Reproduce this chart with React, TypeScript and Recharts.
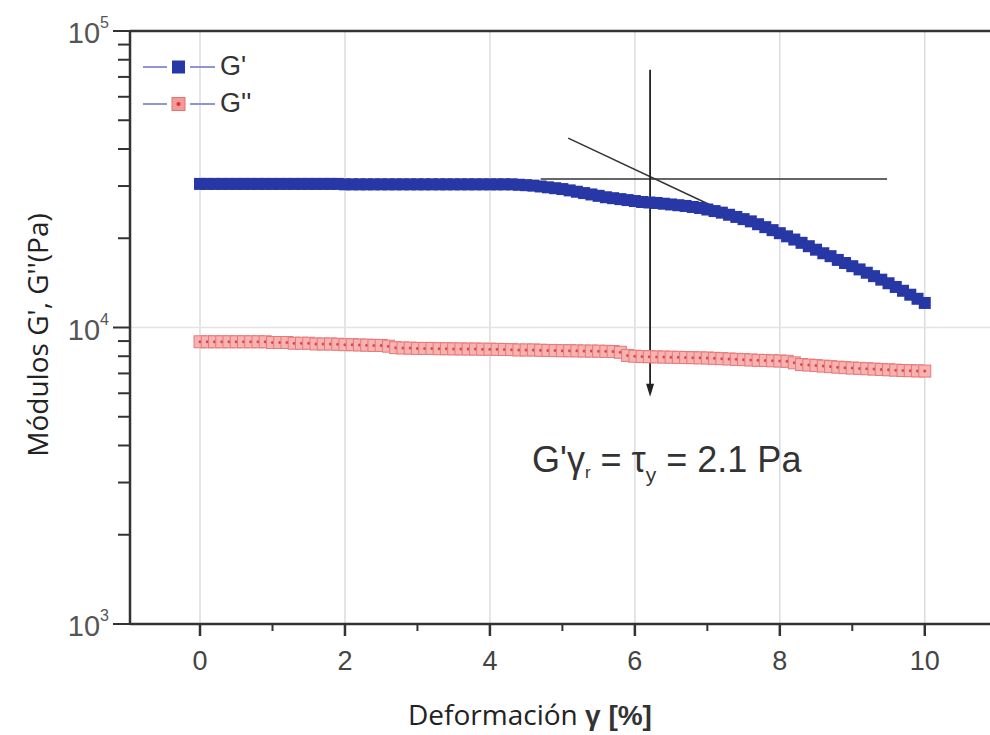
import React from 'react';
import { ComposedChart, Line, Scatter, XAxis, YAxis, ReferenceLine } from 'recharts';

// strain grid, 0 → 10 % in 0.1 steps
const strain = Array.from({ length: 101 }, (_, i) => i / 10);

// G' (Pa)
const gPrime = [
  30500, 30500, 30500, 30500, 30500, 30500, 30500, 30500, 30500, 30500,
  30500, 30500, 30500, 30500, 30500, 30500, 30500, 30500, 30500, 30500,
  30400, 30400, 30400, 30400, 30400, 30400, 30400, 30400, 30400, 30400,
  30400, 30400, 30400, 30400, 30400, 30400, 30400, 30400, 30400, 30400,
  30400, 30400, 30400, 30400, 30300, 30200, 30100, 29900, 29700, 29500,
  29300, 29000, 28700, 28400, 28100, 27800, 27500, 27300, 27100, 26900,
  26700, 26500, 26400, 26300, 26150, 26000, 25850, 25700, 25500, 25300,
  25000, 24700, 24400, 24000, 23600, 23200, 22800, 22300, 21800, 21300,
  20800, 20300, 19800, 19300, 18800, 18300, 17800, 17400, 16900, 16500,
  16100, 15700, 15300, 14900, 14500, 14100, 13700, 13300, 12900, 12500,
  12100,
];

// G'' (Pa)
const gDoublePrime = [
  8950, 8950, 8950, 8950, 8950, 8950, 8950, 8950, 8950, 8950,
  8900, 8900, 8900, 8850, 8850, 8850, 8800, 8800, 8800, 8780,
  8750, 8750, 8730, 8720, 8700, 8700, 8650, 8550, 8530, 8520,
  8500, 8500, 8500, 8480, 8480, 8470, 8470, 8460, 8460, 8450,
  8450, 8440, 8430, 8420, 8400, 8400, 8400, 8380, 8370, 8360,
  8350, 8350, 8340, 8330, 8330, 8320, 8310, 8300, 8250, 8050,
  8000, 7980, 7970, 7960, 7950, 7940, 7930, 7920, 7910, 7900,
  7890, 7870, 7850, 7830, 7810, 7790, 7770, 7750, 7740, 7720,
  7710, 7690, 7600, 7500, 7470, 7440, 7410, 7380, 7350, 7320,
  7300, 7280, 7260, 7240, 7220, 7200, 7180, 7160, 7150, 7140,
  7130,
];

const xTicks = [0, 1, 2, 3, 4, 5, 6, 7, 8, 9, 10];
const xGrid = [0, 2, 4, 6, 8, 10];
const yTicks = [
  1000, 2000, 3000, 4000, 5000, 6000, 7000, 8000, 9000,
  10000, 20000, 30000, 40000, 50000, 60000, 70000, 80000, 90000, 100000,
];

// annotation construction (yield point)
const arrowLine = [{ x: 6.21, y: 74000 }, { x: 6.21, y: 6100 }];
const arrowTip = [{ x: 6.21, y: 5840 }];
const plateauLine = [{ x: 4.7, y: 31700 }, { x: 9.48, y: 31700 }];
const tangentLine = [{ x: 5.08, y: 43500 }, { x: 7.13, y: 25300 }];

const gpData = strain.map((x, i) => ({ x, y: gPrime[i] }));
const gppData = strain.map((x, i) => ({ x, y: gDoublePrime[i] }));

const BLUE = '#2837a6';
const ARIAL = '"Liberation Sans", Arial, sans-serif';
const OPEN = '"Open Sans", sans-serif';

function XTick(props: any) {
  const { x, y, payload } = props;
  const major = payload.value % 2 === 0;
  return (
    <g>
      <line x1={x} x2={x} y1={y} y2={y + (major ? 12 : 7)} stroke="#333" strokeWidth={major ? 2.5 : 2} />
      {major && (
        <text x={x} y={y + 46} textAnchor="middle" fontSize={27} fill="#444" fontFamily={ARIAL}>
          {payload.value}
        </text>
      )}
    </g>
  );
}

function YTick(props: any) {
  const { x, y, payload } = props;
  const exp = Math.log10(payload.value);
  const major = Math.abs(exp - Math.round(exp)) < 1e-6;
  return (
    <g>
      <line x1={x - (major ? 17 : 12)} x2={x} y1={y} y2={y} stroke="#333" strokeWidth={2} />
      {major && (
        <text x={x - 21} y={y + 12} textAnchor="end" fontSize={29} fill="#555" fontFamily={ARIAL}>
          10<tspan fontSize={16} dy={-15}>{Math.round(exp)}</tspan>
        </text>
      )}
    </g>
  );
}

function BlueSquare(props: any) {
  const { cx, cy, index } = props;
  if (cx == null || cy == null) return <g key={index} />;
  return <rect key={index} x={cx - 6} y={cy - 6} width={12} height={12} fill={BLUE} />;
}

function RedSquare(props: any) {
  const { cx, cy, index } = props;
  if (cx == null || cy == null) return <g key={index} />;
  return (
    <g key={index}>
      <rect x={cx - 6} y={cy - 6} width={12} height={12} fill="#f7b2b2" stroke="#e87878" strokeWidth={1} />
      <circle cx={cx} cy={cy} r={1.5} fill="#d84848" />
    </g>
  );
}

function ArrowHead(props: any) {
  const { cx, cy } = props;
  return <polygon points={`${cx - 4},${cy - 13} ${cx + 4},${cy - 13} ${cx},${cy}`} fill="#222" />;
}

function LegendBox() {
  const row = (label: string, red: boolean) => (
    <div style={{ display: 'flex', alignItems: 'center', height: 37 }}>
      <svg width={76} height={20}>
        <line x1={0} x2={24} y1={10} y2={10} stroke="#9096d4" strokeWidth={2} />
        <line x1={47} x2={72} y1={10} y2={10} stroke="#9096d4" strokeWidth={2} />
        {red ? (
          <g>
            <rect x={29} y={3.5} width={13} height={13} fill="#f49a9a" stroke="#e57373" />
            <circle cx={35.5} cy={10} r={2} fill="#d83030" />
          </g>
        ) : (
          <rect x={29} y={3.5} width={13} height={13} fill={BLUE} />
        )}
      </svg>
      <span style={{ fontFamily: ARIAL, fontSize: 27, color: '#333', marginLeft: 1 }}>{label}</span>
    </div>
  );
  return (
    <div style={{ position: 'absolute', left: 143, top: 48 }}>
      {row("G'", false)}
      {row("G''", true)}
    </div>
  );
}

export default function App() {
  return (
    <div style={{ position: 'absolute', left: 0, top: 0, width: 990, height: 735, background: '#fff' }}>
      <ComposedChart width={990} height={735} margin={{ top: 31, right: 0, bottom: 71, left: 0 }}>
        <XAxis
          dataKey="x"
          type="number"
          domain={[-0.966, 10.9]}
          allowDataOverflow
          ticks={xTicks}
          interval={0}
          height={40}
          tickSize={0}
          tickMargin={0}
          tick={<XTick />}
          axisLine={{ stroke: '#333', strokeWidth: 2.5 }}
        />
        <YAxis
          type="number"
          scale="log"
          domain={[1000, 100000]}
          allowDataOverflow
          ticks={yTicks}
          interval={0}
          width={130}
          tickSize={0}
          tickMargin={0}
          tick={<YTick />}
          axisLine={{ stroke: '#333', strokeWidth: 2.5 }}
        />
        {xGrid.map((v) => (
          <ReferenceLine key={v} x={v} stroke="#d9dde2" strokeWidth={1.5} />
        ))}
        <ReferenceLine y={10000} stroke="#e3e3e3" strokeWidth={1.5} />
        <ReferenceLine y={100000} stroke="#333" strokeWidth={2.5} />
        <Line
          data={gppData}
          dataKey="y"
          name="G''"
          stroke="#f2a0a0"
          strokeWidth={6}
          dot={<RedSquare />}
          isAnimationActive={false}
        />
        <Line
          data={gpData}
          dataKey="y"
          name="G'"
          stroke={BLUE}
          strokeWidth={6}
          dot={<BlueSquare />}
          isAnimationActive={false}
        />
        <Line data={plateauLine} dataKey="y" stroke="#333" strokeWidth={1.5} dot={false} isAnimationActive={false} />
        <Line data={tangentLine} dataKey="y" stroke="#333" strokeWidth={1.5} dot={false} isAnimationActive={false} />
        <Line data={arrowLine} dataKey="y" stroke="#222" strokeWidth={1.8} dot={false} isAnimationActive={false} />
        <Scatter data={arrowTip} dataKey="y" shape={<ArrowHead />} isAnimationActive={false} />
      </ComposedChart>
      <LegendBox />
      <svg
        width={990}
        height={735}
        style={{ position: 'absolute', left: 0, top: 0, pointerEvents: 'none' }}
      >
        <text
          x={0}
          y={0}
          transform="translate(48 335) rotate(-90)"
          textAnchor="middle"
          fontFamily={OPEN}
          fontSize={28}
          fill="#222"
        >
          Módulos G', G''(Pa)
        </text>
        <text x={530} y={725} textAnchor="middle" fontFamily={OPEN} fontSize={28} fill="#222">
          Deformación <tspan fontFamily={ARIAL} fontWeight="bold" fill="#333">γ [%]</tspan>
        </text>
        <text x={532} y={472} fontFamily={ARIAL} fontSize={36} fill="#333">
          G'γ<tspan fontSize={17} dy={6}>r</tspan>
          <tspan dy={-6}> = τ</tspan>
          <tspan fontSize={21} dy={10}>y</tspan>
          <tspan dy={-10}> = 2.1 Pa</tspan>
        </text>
      </svg>
    </div>
  );
}
